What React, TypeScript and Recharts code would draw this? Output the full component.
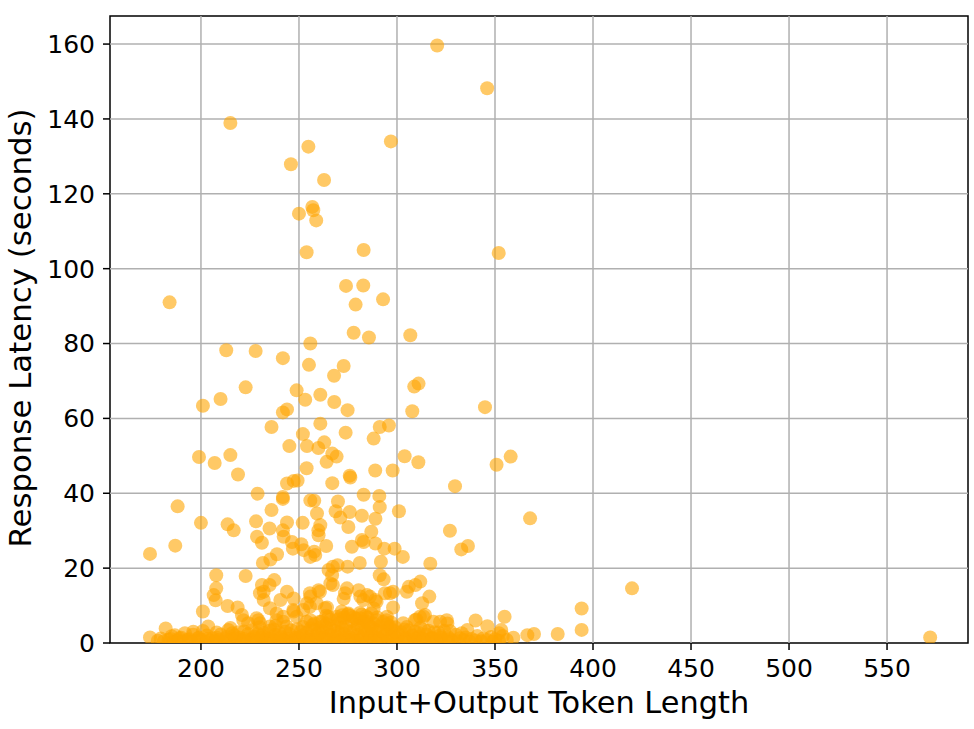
import React from 'react';
import { ScatterChart, Scatter, XAxis, YAxis, ReferenceLine, ReferenceArea } from 'recharts';

type Pt = [number, number];

const xTicks = [200, 250, 300, 350, 400, 450, 500, 550];
const yTicks = [0, 20, 40, 60, 80, 100, 120, 140, 160];
const xDomain: [number, number] = [153.6, 591.3];
const yDomain: [number, number] = [0, 167.5];

const xTitle = 'Input+Output Token Length';
const yTitle = 'Response Latency (seconds)';

// latency >= 40 s
const highLatency: Pt[] = [
  [320.5, 159.6], [346, 148.2], [215, 138.9], [296.9, 134], [254.8, 132.6], [245.9, 127.9], [262.8, 123.7],
  [256.8, 116.5], [257.3, 115.6], [250, 114.7], [258.8, 112.9], [351.9, 104.2], [253.9, 104.4], [283, 105],
  [184, 91], [274, 95.4], [282.8, 95.5], [278.9, 90.4], [292.9, 91.8], [277.9, 82.9], [285.7, 81.6],
  [306.8, 82.2], [255.8, 80], [212.9, 78.2], [227.9, 78], [241.8, 76.1], [255.1, 74.3], [272.8, 74],
  [267.9, 71.4], [222.8, 68.3], [311, 69.3], [308.8, 68.5], [210, 65.2], [201, 63.4], [248.8, 67.5],
  [253.2, 65], [260.9, 66.3], [268, 64.4], [274.8, 62.2], [243.9, 62.4], [241.8, 61.6], [307.8, 61.9],
  [344.9, 63], [236, 57.7], [252, 55.8], [260.9, 58.6], [273.8, 56.2], [291.2, 57.7], [295.9, 58.1],
  [288.1, 54.6], [245.1, 52.6], [254.1, 52.6], [259.9, 52.1], [262.9, 53.6], [267, 50.6], [269.2, 49.8],
  [264.1, 48.4], [199, 49.7], [207, 48.1], [215, 50.2], [218.9, 45], [253.9, 46.7], [303.9, 49.9],
  [310.9, 48.3], [350.8, 47.6], [358, 49.8], [288.9, 46.1], [297.8, 46.1], [243.9, 42.6], [247.3, 43.3],
  [249.3, 43.4], [267, 42.7], [275.9, 44.7], [276.2, 44.2], [329.6, 41.9],
];

// latency 8 - 40 s
const midLatency: Pt[] = [
  [228.9, 39.9], [241.8, 39], [241.8, 38.5], [255.8, 38.1], [257.8, 38], [269.9, 37.8], [283, 39.6],
  [291, 39.3], [236, 35.5], [188.1, 36.5], [268.7, 35.2], [271.1, 33.5], [275.9, 35], [282.1, 34],
  [291.2, 36.3], [289, 33.2], [301, 35.2], [259.2, 34.6], [200, 32.1], [213.6, 31.7], [228.1, 32.5],
  [243.9, 32.2], [251.9, 32.1], [260.9, 31.5], [216.7, 30.1], [235, 30.6], [241.8, 30.1], [259.9, 30.1],
  [275.2, 31], [286.9, 29.7], [367.9, 33.3], [327, 30], [174, 23.8], [186.9, 26], [228.6, 28.4],
  [231.1, 26.8], [238.8, 23.7], [235.4, 22.3], [231.6, 21.4], [242.2, 28.4], [246.4, 27], [246.9, 25.2],
  [251.2, 26.4], [252.4, 24.8], [257.8, 24.4], [258.3, 23.5], [255.8, 23], [260, 28.8], [263.9, 25.9],
  [277, 25.7], [282.1, 27.5], [283, 27], [289, 26.6], [293.5, 25.2], [298.8, 25.2], [303, 23],
  [281, 21.4], [291.8, 21.7], [269.7, 20.8], [267.3, 20.4], [265.1, 19.5], [274.8, 20.4], [317, 21.2],
  [332.8, 25], [336.2, 25.9], [222.8, 17.9], [207.8, 18.1], [207.8, 14.6], [206.5, 12.8], [207.5, 11.4],
  [231.1, 15.5], [232, 13.7], [237.4, 16.8], [235, 15.5], [243.9, 13.7], [247.3, 11.9], [240.5, 11.5],
  [232, 11.5], [230.1, 13.3], [213.6, 9.9], [218.7, 9.5], [255.8, 12.4], [254.1, 10.6], [260, 14.1],
  [255.6, 13.3], [260.7, 13.7], [259, 10.6], [266, 15.9], [267.3, 15.5], [264.3, 9.5], [266.9, 18.1],
  [272.8, 11.8], [274.5, 14.6], [273.5, 13.3], [280.4, 14.1], [281.3, 12.4], [282.8, 11.5], [284.7, 12.8],
  [286.2, 12.4], [289, 11.5], [289.6, 11], [288.1, 9.2], [291.2, 18.1], [293.2, 17], [293.9, 13.3],
  [296.4, 13.3], [298, 13.7], [298, 9.5], [306, 15], [309.4, 15.5], [311.9, 16.4], [305, 13.7],
  [316.5, 12.4], [312.8, 10.6], [419.9, 14.6], [394.2, 9.2], [235.2, 9.3], [255.6, 9.7], [263.3, 9.3],
  [271.8, 8.4], [247.1, 8.8], [252.2, 8.8], [201, 8.4], [247.3, 8.4],
];

// latency 4 - 8 s and sparse low points
const lowLatency: Pt[] = [
  [220.9, 7.5], [221.6, 6.1], [224.1, 5.3], [228.4, 6.6], [230.1, 5.3], [235.2, 4.4], [238.6, 6.1],
  [242, 5.7], [243.7, 4.4], [238.6, 7.9], [242, 7], [248.8, 7], [229.3, 6.1], [203.7, 4.4], [182, 3.9],
  [174, 1.5], [186.7, 2.1], [191.8, 2.6], [196.1, 3.0], [309.9, 6.3], [313.6, 7], [294.9, 7], [275, 7.6],
  [263.9, 7.3], [255.8, 6.1], [253.9, 5.7], [260.7, 5.7], [265, 7], [269.2, 7], [275.2, 7.9], [281.1, 6.6],
  [284.5, 5.7], [289.6, 6.1], [294.7, 6.1], [296.4, 4.4], [311.7, 7], [314.3, 7.5], [318.6, 5.7],
  [322, 5.7], [325.4, 6.1], [309.2, 6.1], [303.2, 5.3], [325.7, 5.2], [354.9, 7], [353.2, 3.5],
  [352, 2.6], [359.4, 1.4], [340.1, 6], [346.1, 4.5], [335.9, 3.5], [394.2, 3.5], [382, 2.4],
  [369.9, 2.4], [366.5, 2.1], [572, 1.5],
];

// near-zero band
const baseBandA: Pt[] = [
  [178, 0.6], [181, 0.4], [183.5, 0.9], [186, 0.3], [188, 0.7], [190.5, 0.5], [193, 0.8], [195, 0.4],
  [197.5, 0.6], [200, 0.9], [202, 0.3], [204.5, 0.7], [207, 0.5], [209, 0.8], [211.5, 0.4], [214, 0.6],
  [216, 0.9], [218.5, 0.3], [221, 0.7], [223, 0.5], [225.5, 0.8], [228, 0.4], [230, 0.6], [232.5, 0.9],
  [235, 0.3], [237, 0.7], [239.5, 0.5], [242, 0.8], [244, 0.4], [246.5, 0.6], [249, 0.9], [251, 0.3],
  [253.5, 0.7], [256, 0.5], [258, 0.8], [260.5, 0.4], [263, 0.6], [265, 0.9], [267.5, 0.3], [270, 0.7],
  [272, 0.5], [274.5, 0.8], [277, 0.4], [279, 0.6], [281.5, 0.9], [284, 0.3], [286, 0.7], [288.5, 0.5],
  [291, 0.8], [293, 0.4], [295.5, 0.6], [298, 0.9], [300, 0.3], [302.5, 0.7], [305, 0.5], [307, 0.8],
  [309.5, 0.4], [312, 0.6], [314, 0.9], [316.5, 0.3], [319, 0.7], [321, 0.5], [323.5, 0.8], [326, 0.4],
  [328, 0.6], [331, 0.5], [334, 0.8], [337, 0.4], [340, 0.7], [343, 0.5], [346, 0.9], [349, 0.4],
  [352, 0.6], [356, 0.8],
];

const baseBandB: Pt[] = [
  [185, 1.8], [190, 1.4], [196, 2.2], [199, 1.5], [203, 2.0], [206, 1.3], [210, 2.3], [213, 1.6],
  [217, 2.1], [220, 1.4], [224, 2.4], [227, 1.7], [231, 2.0], [234, 1.3], [238, 2.2], [241, 1.6],
  [245, 2.4], [248, 1.4], [252, 2.1], [255, 1.7], [259, 2.4], [262, 1.5], [266, 2.2], [269, 1.8],
  [273, 2.4], [276, 1.5], [280, 2.2], [283, 1.8], [287, 2.4], [290, 1.4], [294, 2.1], [297, 1.7],
  [301, 2.3], [304, 1.5], [308, 2.0], [311, 1.6], [315, 2.3], [318, 1.4], [322, 2.0], [326, 1.6],
  [330, 2.2], [335, 1.5], [341, 1.9], [348, 1.6], [354, 1.9],
];

const baseBandC: Pt[] = [
  [201, 3.2], [208, 2.8], [214, 3.5], [219, 2.9], [226, 3.4], [232, 2.7], [237, 3.6], [243, 3.0],
  [249, 3.7], [254, 2.8], [258, 3.5], [262, 3.1], [266, 3.8], [270, 2.9], [274, 3.6], [278, 3.2],
  [282, 3.9], [285, 2.8], [289, 3.5], [293, 3.0], [297, 3.7], [302, 2.9], [306, 3.4], [311, 2.7],
  [316, 3.3], [321, 2.8], [327, 3.2], [333, 2.6],
];

const baseBandD: Pt[] = [
  [252, 4.3], [257, 4.8], [261, 4.2], [264, 5.1], [268, 4.5], [271, 5.5], [274, 4.7], [277, 5.9],
  [280, 4.9], [283, 5.6], [286, 4.6], [288, 5.3], [291, 4.4], [295, 5.0], [299, 4.2], [230, 4.2],
  [238, 4.6], [215, 4.0], [305, 4.3], [312, 4.1], [270, 6.3], [276, 7.2], [279, 6.5], [282, 7.6],
  [285, 6.8], [287, 7.9], [273, 6.8],
];

const baseBandE: Pt[] = [
  [179.5, 1.2], [184.5, 1.1], [189, 1.3], [194, 1.0], [198.5, 1.2], [203.5, 1.1], [208, 1.4], [212.5, 1.0],
  [217.5, 1.3], [222, 1.1], [226.5, 1.2], [231, 1.4], [236, 1.0], [240.5, 1.3], [245, 1.1], [249.5, 1.4],
  [254.5, 1.0], [259, 1.2], [263.5, 1.5], [268, 1.1], [272.5, 1.3], [277.5, 1.0], [282, 1.4], [286.5, 1.2],
  [291, 1.1], [295.5, 1.5], [300, 1.2], [304.5, 1.0], [309, 1.3], [313.5, 1.1], [318, 1.2], [322.5, 1.4],
  [327, 1.0], [332, 1.3], [338, 1.1], [344, 1.2], [350, 1.0],
];

const baseBandF: Pt[] = [
  [216, 2.6], [222, 3.1], [229, 2.5], [235, 3.3], [240, 2.6], [246, 3.4], [251, 3.0], [256, 3.9],
  [260, 2.7], [264, 4.2], [268, 3.3], [272, 4.0], [276, 3.0], [280, 4.3], [284, 3.5], [287, 4.1],
  [291, 3.3], [295, 3.9], [299, 3.1], [304, 3.6], [309, 3.0], [314, 3.5], [319, 2.9], [324, 3.3],
  [262, 5.8], [266, 6.2], [272, 7.4], [278, 6.9], [281, 8.0], [284, 7.2], [290, 6.8], [293, 5.6],
  [258, 5.2], [297, 5.5],
];

const data = [
  ...highLatency, ...midLatency, ...lowLatency,
  ...baseBandA, ...baseBandB, ...baseBandC, ...baseBandD, ...baseBandE, ...baseBandF,
].map(([tokens, latency]) => ({ tokens, latency }));

const FONT = 'DejaVu Sans';

const Dot = (props: any) => (
  <circle cx={props.cx} cy={props.cy} r={7} fill="#FFA500" fillOpacity={0.6} />
);

export default function App() {
  return (
    <div style={{ position: 'absolute', left: 0, top: 0, width: 974, height: 729, background: '#fff' }}>
      <ScatterChart width={974} height={729} margin={{ top: 16, right: 6, bottom: 0, left: 0 }}>
        <XAxis
          type="number"
          dataKey="tokens"
          domain={xDomain}
          allowDataOverflow
          ticks={xTicks}
          interval={0}
          height={86}
          axisLine={false}
          tickSize={7}
          tickMargin={9}
          tickLine={{ stroke: '#000', strokeWidth: 1.5 }}
          tick={{ fill: '#000', fontSize: 25, fontFamily: FONT }}
          label={{
            content: () => (
              <text x={539} y={713} textAnchor="middle" fontSize={30.4} fontFamily={FONT} fill="#000">
                {xTitle}
              </text>
            ),
          }}
        />
        <YAxis
          type="number"
          dataKey="latency"
          domain={yDomain}
          allowDataOverflow
          ticks={yTicks}
          interval={0}
          width={110}
          axisLine={false}
          tickSize={7}
          tickMargin={8}
          tickLine={{ stroke: '#000', strokeWidth: 1.5 }}
          tick={{ fill: '#000', fontSize: 25, fontFamily: FONT }}
          label={{
            content: () => (
              <text
                x={31}
                y={328}
                transform="rotate(-90 31 328)"
                textAnchor="middle"
                fontSize={30.8}
                fontFamily={FONT}
                fill="#000"
              >
                {yTitle}
              </text>
            ),
          }}
        />
        <Scatter data={data} shape={Dot} isAnimationActive={false} />
        {xTicks.map((t) => (
          <ReferenceLine key={'x' + t} x={t} stroke="#b0b0b0" strokeWidth={1.5} />
        ))}
        {yTicks.filter((t) => t > 0).map((t) => (
          <ReferenceLine key={'y' + t} y={t} stroke="#b0b0b0" strokeWidth={1.5} />
        ))}
        <ReferenceArea
          x1={xDomain[0]}
          x2={xDomain[1]}
          y1={yDomain[0]}
          y2={yDomain[1]}
          fill="none"
          fillOpacity={0}
          stroke="#000"
          strokeWidth={1.5}
        />
      </ScatterChart>
    </div>
  );
}
